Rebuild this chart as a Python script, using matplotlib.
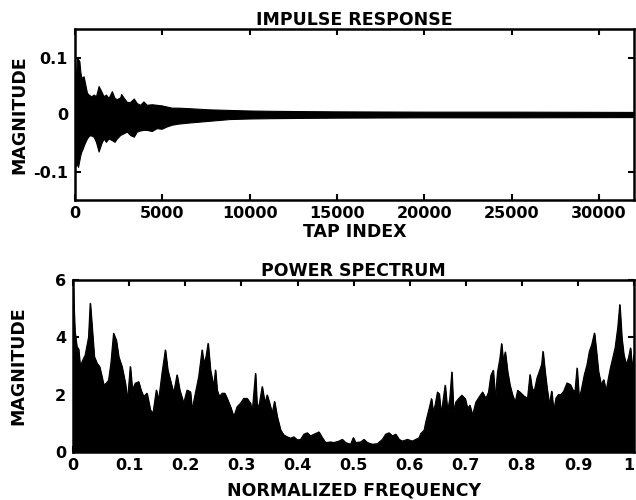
"""Two-panel figure: filter impulse response and its power spectrum."""

import matplotlib

matplotlib.use("Agg")
import matplotlib.pyplot as plt

# impulse response envelope (tap index, upper, lower)
TAPS = [0, 60, 114, 171, 247, 304, 361, 437, 494, 589, 684, 779, 874, 931,
        1064, 1197, 1349, 1501, 1634, 1767, 1919, 2109, 2261, 2394, 2584,
        2641, 2774, 2964, 3154, 3363, 3534, 3724, 3914, 4104, 4389, 4674,
        4959, 5244, 5529, 5909, 6555, 7695, 8835, 9975, 11115, 12825,
        15000, 20000, 25000, 32000]
IR_UPPER = [0.02, 0.07, 0.100, 0.097, 0.094, 0.075, 0.064, 0.066, 0.067,
            0.052, 0.038, 0.035, 0.033, 0.032, 0.035, 0.032, 0.050, 0.041,
            0.032, 0.035, 0.029, 0.041, 0.029, 0.027, 0.030, 0.036, 0.030,
            0.022, 0.022, 0.028, 0.020, 0.017, 0.023, 0.017, 0.018, 0.017,
            0.016, 0.014, 0.012, 0.012, 0.011, 0.009, 0.008, 0.007, 0.0065,
            0.006, 0.0055, 0.005, 0.005, 0.0045]
IR_LOWER = [-0.02, -0.090, -0.085, -0.092, -0.080, -0.071, -0.065, -0.060,
            -0.055, -0.048, -0.042, -0.038, -0.036, -0.037, -0.039, -0.048,
            -0.065, -0.051, -0.042, -0.048, -0.042, -0.045, -0.048, -0.042,
            -0.036, -0.035, -0.033, -0.030, -0.036, -0.039, -0.030, -0.028,
            -0.027, -0.027, -0.029, -0.024, -0.025, -0.021, -0.018, -0.016,
            -0.014, -0.011, -0.008, -0.007, -0.0065, -0.006, -0.0055,
            -0.005, -0.005, -0.0045]

# power spectrum peaks
FREQ = [0.0, 0.003, 0.0065, 0.0095, 0.0125, 0.017, 0.0214, 0.0274, 0.0304,
        0.034, 0.0375, 0.0423, 0.047, 0.0512, 0.0542, 0.059, 0.0631, 0.0673,
        0.072, 0.0768, 0.081, 0.0869, 0.0929, 0.097, 0.1018, 0.1054, 0.1107,
        0.1167, 0.1208, 0.1256, 0.1315, 0.1375, 0.1423, 0.1482, 0.1524,
        0.1583, 0.1643, 0.1685, 0.1732, 0.1792, 0.1851, 0.1899, 0.197, 0.203,
        0.2089, 0.2119, 0.2179, 0.2238, 0.2298, 0.2327, 0.2369, 0.2405,
        0.2446, 0.2506, 0.2536, 0.2565, 0.2607, 0.2655, 0.2702, 0.2744,
        0.2804, 0.2863, 0.2923, 0.2982, 0.3042, 0.3101, 0.3161, 0.319,
        0.325, 0.328, 0.3321, 0.3369, 0.3417, 0.3458, 0.35, 0.3548, 0.3589,
        0.3637, 0.3696, 0.3756, 0.3815, 0.3875, 0.3935, 0.3994, 0.4054,
        0.4113, 0.4173, 0.4232, 0.4292, 0.4351, 0.4381, 0.444, 0.45, 0.4589,
        0.4649, 0.4738, 0.4798, 0.4857, 0.4946, 0.4994, 0.5036, 0.5125,
        0.5185, 0.5244, 0.5333, 0.5423, 0.5512, 0.5571, 0.5631, 0.569,
        0.575, 0.581, 0.5869, 0.5958, 0.6048, 0.6107, 0.6167, 0.6196,
        0.6256, 0.6286, 0.6345, 0.6387, 0.6417, 0.6452, 0.6494, 0.6524,
        0.6554, 0.6583, 0.6631, 0.6673, 0.6714, 0.675, 0.678, 0.6821,
        0.6869, 0.6929, 0.6988, 0.703, 0.7071, 0.7119, 0.7179, 0.7238,
        0.7298, 0.7357, 0.7405, 0.7446, 0.7488, 0.7524, 0.7565, 0.7607,
        0.7637, 0.7667, 0.7702, 0.7744, 0.7786, 0.7833, 0.7881, 0.7923,
        0.7964, 0.8042, 0.8101, 0.8143, 0.8179, 0.822, 0.8268, 0.831,
        0.8351, 0.8375, 0.8411, 0.8446, 0.8488, 0.853, 0.8565, 0.8607,
        0.8649, 0.8696, 0.8744, 0.8804, 0.8863, 0.8905, 0.8946, 0.8982,
        0.9018, 0.9054, 0.9113, 0.9161, 0.9202, 0.9244, 0.9292, 0.9327,
        0.9363, 0.9411, 0.9458, 0.95, 0.9542, 0.9577, 0.9619, 0.9661,
        0.9708, 0.9744, 0.978, 0.9815, 0.9857, 0.9899, 0.9935, 0.9964, 1.0]
POWER = [5.7, 4.2, 3.67, 3.6, 2.98, 3.2, 3.38, 4.0, 5.19, 4.26, 3.33, 3.1,
         2.98, 2.63, 2.34, 2.4, 2.5, 3.1, 4.14, 3.9, 3.33, 2.98, 2.4, 1.81,
         2.98, 2.16, 2.4, 2.45, 2.16, 1.93, 2.05, 1.47, 1.35, 2.16, 1.81,
         2.74, 3.56, 2.86, 2.5, 2.05, 2.69, 2.16, 1.7, 2.16, 2.1, 1.47, 2.05,
         2.63, 3.56, 3.09, 3.33, 3.79, 2.86, 2.28, 2.86, 2.16, 1.93, 2.05,
         2.05, 1.87, 1.58, 1.23, 1.58, 1.7, 1.87, 1.87, 1.7, 1.35, 2.74,
         1.47, 1.7, 2.28, 1.7, 1.99, 1.7, 1.35, 1.76, 1.23, 0.77, 0.59, 0.53,
         0.48, 0.53, 0.42, 0.44, 0.62, 0.67, 0.56, 0.62, 0.67, 0.7, 0.5,
         0.33, 0.35, 0.33, 0.38, 0.44, 0.33, 0.27, 0.5, 0.33, 0.35, 0.44,
         0.33, 0.27, 0.29, 0.44, 0.62, 0.67, 0.56, 0.62, 0.44, 0.38, 0.44,
         0.38, 0.44, 0.5, 0.64, 0.76, 1.05, 1.51, 1.86, 1.4, 1.63, 2.09,
         2.03, 1.4, 1.63, 2.33, 1.4, 1.86, 2.79, 1.4, 1.74, 1.86, 1.98, 1.86,
         1.51, 1.63, 1.28, 1.74, 1.92, 2.09, 1.86, 2.09, 2.67, 2.85, 1.86,
         2.79, 3.26, 3.78, 3.14, 3.49, 2.79, 2.33, 1.98, 1.74, 2.15, 2.09,
         1.94, 1.88, 2.7, 2.23, 2.12, 2.58, 2.81, 3.05, 3.51, 2.81, 2.23,
         1.65, 2.12, 1.42, 1.88, 2.0, 2.0, 2.12, 2.41, 2.35, 2.17, 2.12,
         2.93, 1.88, 2.12, 2.7, 3.05, 3.51, 3.74, 4.15, 3.51, 2.81, 2.35,
         2.52, 2.12, 2.58, 2.93, 3.28, 3.63, 4.33, 5.14, 3.98, 3.4, 3.05,
         3.28, 3.63, 2.93, 3.4]

IR_XTICKS = [0, 5000, 10000, 15000, 20000, 25000, 30000]
IR_YTICKS = [-0.1, 0, 0.1]
IR_YLABELS = ["-0.1", "0", "0.1"]
PS_XTICKS = [0, 0.1, 0.2, 0.3, 0.4, 0.5, 0.6, 0.7, 0.8, 0.9, 1]
PS_XLABELS = ["0", "0.1", "0.2", "0.3", "0.4", "0.5", "0.6", "0.7", "0.8",
              "0.9", "1"]
PS_YTICKS = [0, 2, 4, 6]


def _apply_style() -> None:
    plt.rcParams.update(
        {
            "font.family": "DejaVu Sans",
            "font.weight": "bold",
            "font.size": 11.5,
            "axes.linewidth": 1.8,
            "axes.unicode_minus": False,
            "xtick.direction": "in",
            "ytick.direction": "in",
            "xtick.top": True,
            "ytick.right": True,
            "xtick.major.size": 4,
            "ytick.major.size": 4,
            "xtick.major.width": 1.5,
            "ytick.major.width": 1.5,
            "xtick.major.pad": 4,
            "ytick.major.pad": 5,
            "figure.facecolor": "white",
            "axes.facecolor": "white",
        }
    )


def _label(ax, title, xlabel, ylabel, xl_y, yl_x):
    ax.set_title(title, fontsize=12.5, fontweight="bold", pad=1)
    ax.set_xlabel(xlabel, fontsize=12.5, fontweight="bold")
    ax.set_ylabel(ylabel, fontsize=12.5, fontweight="bold")
    ax.xaxis.set_label_coords(0.5, xl_y)
    ax.yaxis.set_label_coords(yl_x, 0.5)


def main() -> None:
    _apply_style()
    fig = plt.figure(figsize=(6.36, 5.0), dpi=100)

    ax1 = fig.add_axes([0.118, 0.600, 0.879, 0.342])
    ax1.fill_between(TAPS, IR_LOWER, IR_UPPER, color="black", linewidth=0.8)
    ax1.set_xlim(0, 32000)
    ax1.set_ylim(-0.15, 0.15)
    ax1.set_xticks(IR_XTICKS)
    ax1.set_yticks(IR_YTICKS)
    ax1.set_yticklabels(IR_YLABELS)
    _label(ax1, "IMPULSE RESPONSE", "TAP INDEX", "MAGNITUDE", -0.135, -0.084)

    ax2 = fig.add_axes([0.115, 0.096, 0.882, 0.344])
    ax2.fill_between(FREQ, 0, POWER, color="black", linewidth=0.8)
    ax2.plot(FREQ, POWER, color="black", linewidth=0.8)
    ax2.set_xlim(0, 1)
    ax2.set_ylim(0, 6)
    ax2.set_xticks(PS_XTICKS)
    ax2.set_xticklabels(PS_XLABELS)
    # last label sits on the figure edge, keep it inside
    ax2.get_xticklabels()[-1].set_horizontalalignment("right")
    ax2.set_yticks(PS_YTICKS)
    _label(ax2, "POWER SPECTRUM", "NORMALIZED FREQUENCY", "MAGNITUDE",
           -0.17, -0.081)

    fig.savefig("out.png", dpi=100)
    plt.close(fig)


if __name__ == "__main__":
    main()
